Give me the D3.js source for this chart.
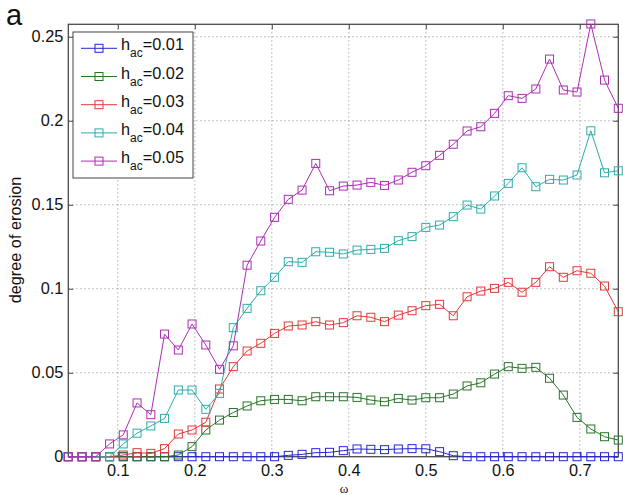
<!DOCTYPE html>
<meta charset="utf-8">
<head>
    <script type="text/javascript" src="https://cdn.jsdelivr.net/npm/d3@7"></script>
    <style>
        body { margin: 0; background: #fff; }
        text { font-family: "Liberation Sans", Arial, sans-serif; fill: #111; }
        .grid line { stroke: #9a9a9a; stroke-width: 1; stroke-dasharray: 1.2, 2.8; }
    </style>
</head>
<body>
<div id="chart"></div>
<script>
    // omega values (x)
    var omega = [0.0357, 0.0536, 0.0714, 0.0893, 0.1071, 0.125, 0.1429, 0.1607, 0.1786, 0.1964,
                 0.2143, 0.2321, 0.25, 0.2679, 0.2857, 0.3036, 0.3214, 0.3393, 0.3571, 0.375,
                 0.3929, 0.4107, 0.4286, 0.4464, 0.4643, 0.4821, 0.5, 0.5179, 0.5357, 0.5536,
                 0.5714, 0.5893, 0.6071, 0.625, 0.6429, 0.6607, 0.6786, 0.6964, 0.7143, 0.7321, 0.75];

    var h01 = [0, 0, 0, 0, 0, 0, 0, 0, 0, 0, 0, 0, 0, 0, 0, 0,
               0.0008, 0.0014, 0.0024, 0.0026, 0.0036, 0.0046, 0.0044, 0.0042, 0.0046, 0.0048, 0.0047, 0.003, 0.0006,
               0, 0, 0, 0, 0, 0, 0, 0, 0, 0, 0, 0];
    var h02 = [0, 0, 0, 0, 0, 0, 0, 0, 0.001, 0.006, 0.0159, 0.0218, 0.0263, 0.0302, 0.0333, 0.0341,
               0.0341, 0.0333, 0.0357, 0.0357, 0.0357, 0.0353, 0.0337, 0.0327, 0.0347, 0.0337, 0.0351,
               0.0351, 0.0373, 0.0421, 0.044, 0.0492, 0.0536, 0.0526, 0.0532, 0.0467, 0.0367, 0.0234,
               0.0165, 0.0119, 0.0099];
    var h03 = [0, 0, 0, 0, 0.001, 0.0024, 0.002, 0.0048, 0.0135, 0.0159, 0.0205, 0.0403, 0.0536, 0.0629,
               0.0675, 0.0734, 0.0778, 0.0784, 0.0804, 0.0784, 0.0798, 0.0839, 0.083, 0.0804, 0.0843,
               0.0869, 0.0899, 0.0907, 0.0839, 0.0952, 0.0986, 0.1002, 0.1038, 0.0979, 0.1038, 0.1131,
               0.1068, 0.1107, 0.1092, 0.1016, 0.0863];
    var h04 = [0, 0, 0, 0, 0.0076, 0.014, 0.0183, 0.0228, 0.0397, 0.0397, 0.0282, 0.0377, 0.0768, 0.0883,
               0.0988, 0.1068, 0.1161, 0.1157, 0.122, 0.1217, 0.1207, 0.123, 0.1234, 0.124, 0.1286,
               0.131, 0.1365, 0.1379, 0.1429, 0.1498, 0.1474, 0.1552, 0.1627, 0.172, 0.1607, 0.1651,
               0.1647, 0.1677, 0.194, 0.169, 0.1702];
    var h05 = [0, 0, 0, 0.0076, 0.013, 0.032, 0.025, 0.073, 0.0635, 0.079, 0.0665, 0.052, 0.066, 0.114,
               0.1284, 0.1425, 0.1532, 0.1587, 0.1746, 0.1583, 0.1611, 0.1617, 0.1633, 0.1615, 0.1647,
               0.1693, 0.1732, 0.1794, 0.186, 0.1939, 0.1964, 0.2044, 0.2149, 0.2133, 0.2189, 0.2367,
               0.2183, 0.2171, 0.2576, 0.2242, 0.2074];

    var names = ["0.01", "0.02", "0.03", "0.04", "0.05"];
    var colors = ["#2626d8", "#2a742a", "#e23a3a", "#2eacac", "#ad2db5"];
    var xTicks = [0.1, 0.2, 0.3, 0.4, 0.5, 0.6, 0.7];
    var yTicks = [0, 0.05, 0.1, 0.15, 0.2, 0.25];

    var series = [h01, h02, h03, h04, h05];

    var w = 623, h = 495;
    // plot box (pixels)
    var pL = 68.3, pR = 618.3, pT = 24.3, pB = 456.7;

    var svg = d3.select("#chart").append("svg")
        .attr("width", w)
        .attr("height", h);

    var x = d3.scaleLinear().domain([0.0357, 0.75]).range([pL, pR]);
    var y = d3.scaleLinear().domain([0, 0.2574]).range([pB, pT]);

    // grid
    var grid = svg.append("g").attr("class", "grid");
    grid.selectAll(".gx").data(xTicks).enter().append("line")
        .attr("x1", d => x(d)).attr("x2", d => x(d))
        .attr("y1", pT).attr("y2", pB);
    grid.selectAll(".gy").data(yTicks.slice(1)).enter().append("line")
        .attr("x1", pL).attr("x2", pR)
        .attr("y1", d => y(d)).attr("y2", d => y(d));

    // axes (ticks inward on all sides)
    var xAxis = d3.axisBottom(x).tickValues(xTicks).tickSizeInner(-5).tickSizeOuter(0).tickPadding(8)
        .tickFormat(d3.format(".1f"));
    var yAxis = d3.axisLeft(y).tickValues(yTicks).tickSizeInner(-5).tickSizeOuter(0).tickPadding(5)
        .tickFormat(d => d === 0 ? "0" : d3.format("")(d));

    var gx = svg.append("g").attr("transform", "translate(0," + pB + ")").call(xAxis);
    var gy = svg.append("g").attr("transform", "translate(" + pL + ",0)").call(yAxis);
    var gxt = svg.append("g").attr("transform", "translate(0," + pT + ")")
        .call(d3.axisTop(x).tickValues(xTicks).tickSizeInner(-5).tickSizeOuter(0).tickFormat(""));
    var gyr = svg.append("g").attr("transform", "translate(" + pR + ",0)")
        .call(d3.axisRight(y).tickValues(yTicks).tickSizeInner(-5).tickSizeOuter(0).tickFormat(""));

    [gx, gy, gxt, gyr].forEach(function (g) {
        g.select(".domain").remove();
        g.selectAll(".tick line").attr("stroke", "#444").attr("stroke-width", 1);
        g.selectAll("text").style("font-size", "16.3px").attr("fill", "#111")
            .style("font-family", "'Liberation Sans', Arial, sans-serif");
    });

    // box
    svg.append("rect")
        .attr("x", pL).attr("y", pT)
        .attr("width", pR - pL).attr("height", pB - pT)
        .attr("fill", "none").attr("stroke", "#4a4a4a").attr("stroke-width", 1.3);

    // lines and markers
    var line = d3.line().x((d, i) => x(omega[i])).y(d => y(d));

    series.forEach(function (s, k) {
        var g = svg.append("g");
        g.append("path")
            .attr("d", line(s))
            .attr("fill", "none")
            .attr("stroke", colors[k])
            .attr("stroke-width", 1);
        g.selectAll("rect").data(s).enter().append("rect")
            .attr("x", (d, i) => x(omega[i]) - 4)
            .attr("y", d => y(d) - 4)
            .attr("width", 8).attr("height", 8)
            .attr("fill", "none")
            .attr("stroke", colors[k])
            .attr("stroke-width", 1);
    });

    // legend
    var legend = svg.append("g").attr("transform", "translate(73,32)");
    legend.append("rect")
        .attr("width", 120).attr("height", 146)
        .attr("fill", "#fff").attr("stroke", "#444").attr("stroke-width", 1);
    names.forEach(function (n, k) {
        var ly = 16.3 + k * 28.2;
        var row = legend.append("g").attr("transform", "translate(0," + ly + ")");
        row.append("line").attr("x1", 8).attr("x2", 44).attr("y1", 0).attr("y2", 0)
            .attr("stroke", colors[k]).attr("stroke-width", 1);
        row.append("rect").attr("x", 22).attr("y", -4).attr("width", 8).attr("height", 8)
            .attr("fill", "none").attr("stroke", colors[k]).attr("stroke-width", 1);
        var t = row.append("text").attr("x", 48).attr("y", 2).style("font-size", "16.3px");
        t.append("tspan").text("h");
        t.append("tspan").attr("dy", 7).style("font-size", "12px").text("ac");
        t.append("tspan").attr("dy", -7).text("=" + n);
    });

    // labels
    svg.append("text").attr("x", 6).attr("y", 25).style("font-size", "29px").text("a");
    svg.append("text")
        .attr("transform", "translate(21,240) rotate(-90)")
        .attr("text-anchor", "middle")
        .style("font-size", "16.3px")
        .text("degree of erosion");
    svg.append("text")
        .attr("x", 344).attr("y", 493)
        .attr("text-anchor", "middle")
        .style("font-family", "'Liberation Serif', 'DejaVu Serif', serif")
        .style("font-size", "13px")
        .text("ω");
</script>
</body>
